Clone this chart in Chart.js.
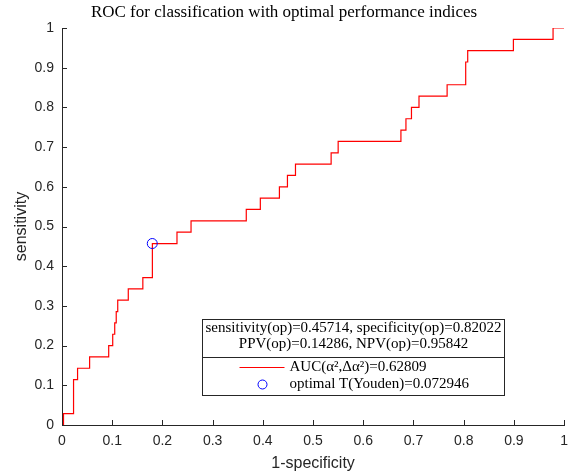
<!DOCTYPE html>
<html>
<head>
<meta charset="utf-8">
<script src="https://cdn.jsdelivr.net/npm/chart.js@4"></script>
<style>
  html, body { margin: 0; padding: 0; background: #fff; }
  #wrap { width: 576px; height: 476px; }
</style>
</head>
<body>
<div id="wrap"><canvas id="roc"></canvas></div>
<script>
// ROC curve vertices (1-specificity, sensitivity)
const fpr = [0.003, 0.003, 0.023, 0.023, 0.031, 0.031, 0.055, 0.055, 0.093, 0.093,
  0.101, 0.101, 0.105, 0.105, 0.108, 0.108, 0.111, 0.111, 0.132, 0.132,
  0.161, 0.161, 0.180, 0.180, 0.229, 0.229, 0.257, 0.257, 0.367, 0.367,
  0.395, 0.395, 0.433, 0.433, 0.449, 0.449, 0.465, 0.465, 0.536, 0.536,
  0.550, 0.550, 0.675, 0.675, 0.685, 0.685, 0.696, 0.696, 0.711, 0.711,
  0.767, 0.767, 0.804, 0.804, 0.808, 0.808, 0.899, 0.899, 0.978, 0.978, 1];
const tpr = [0, 0.0286, 0.0286, 0.1143, 0.1143, 0.1429, 0.1429, 0.1714, 0.1714, 0.2,
  0.2, 0.2286, 0.2286, 0.2571, 0.2571, 0.2857, 0.2857, 0.3143, 0.3143, 0.3429,
  0.3429, 0.3714, 0.3714, 0.4571, 0.4571, 0.4857, 0.4857, 0.5143, 0.5143, 0.5429,
  0.5429, 0.5714, 0.5714, 0.6, 0.6, 0.6286, 0.6286, 0.6571, 0.6571, 0.6857,
  0.6857, 0.7143, 0.7143, 0.7429, 0.7429, 0.7714, 0.7714, 0.8, 0.8, 0.8286,
  0.8286, 0.8571, 0.8571, 0.9143, 0.9143, 0.9429, 0.9429, 0.9714, 0.9714, 1, 1];

// optimal operating point (Youden)
const optX = [0.17978];
const optY = [0.45714];

const tickValues = [0, 0.1, 0.2, 0.3, 0.4, 0.5, 0.6, 0.7, 0.8, 0.9, 1];
const tickLabels = ['0', '0.1', '0.2', '0.3', '0.4', '0.5', '0.6', '0.7', '0.8', '0.9', '1'];

const statLines = [
  'sensitivity(op)=0.45714, specificity(op)=0.82022',
  'PPV(op)=0.14286, NPV(op)=0.95842'
];
const legendLabels = ['AUC(\u03B1\u00B2,\u0394\u03B1\u00B2)=0.62809', 'optimal T(Youden)=0.072946'];

const axisColor = '#262626';
const serif = '"Liberation Serif", "DejaVu Serif", serif';
const sans = '"Liberation Sans", Arial, sans-serif';

const rocPoints = fpr.map((x, i) => ({ x: x, y: tpr[i] }));
const optPoints = optX.map((x, i) => ({ x: x, y: optY[i] }));

function setTicks(scale) {
  scale.ticks = tickValues.map(v => ({ value: v }));
}

// MATLAB style inward tick marks
const innerTicks = {
  id: 'innerTicks',
  afterDatasetsDraw(chart) {
    const ctx = chart.ctx;
    const xs = chart.scales.x, ys = chart.scales.y;
    const len = 5;
    ctx.save();
    ctx.strokeStyle = axisColor;
    ctx.lineWidth = 1;
    ctx.beginPath();
    tickValues.forEach(v => {
      const px = Math.round(xs.getPixelForValue(v)) + 0.5;
      ctx.moveTo(px, ys.bottom);
      ctx.lineTo(px, ys.bottom - len);
      const py = Math.round(ys.getPixelForValue(v)) + 0.5;
      ctx.moveTo(xs.left, py);
      ctx.lineTo(xs.left + len, py);
    });
    ctx.stroke();
    ctx.restore();
  }
};

// legend box with the performance indices
const statLegend = {
  id: 'statLegend',
  afterDraw(chart) {
    const ctx = chart.ctx;
    const a = chart.chartArea;
    const w = a.right - a.left, h = a.bottom - a.top;
    const left = Math.round(a.left + 0.279 * w) + 0.5;
    const right = Math.round(a.left + 0.880 * w) + 0.5;
    const top = Math.round(a.bottom - 0.266 * h) + 0.5;
    const bottom = Math.round(a.bottom - 0.076 * h) + 0.5;
    const mid = Math.round(a.bottom - 0.172 * h) + 0.5;
    const cx = (left + right) / 2;

    ctx.save();
    ctx.fillStyle = '#fff';
    ctx.fillRect(left, top, right - left, bottom - top);
    ctx.strokeStyle = axisColor;
    ctx.lineWidth = 1;
    ctx.strokeRect(left, top, right - left, bottom - top);
    ctx.beginPath();
    ctx.moveTo(left, mid);
    ctx.lineTo(right, mid);
    ctx.stroke();

    ctx.fillStyle = '#000';
    ctx.font = '15px ' + serif;
    ctx.textAlign = 'center';
    ctx.textBaseline = 'middle';
    ctx.fillText(statLines[0], cx, top + 9);
    ctx.fillText(statLines[1], cx, top + 25);

    const row1 = mid + 10, row2 = mid + 27;
    const textX = left + 87;
    ctx.strokeStyle = '#ff0000';
    ctx.beginPath();
    ctx.moveTo(left + 37, row1);
    ctx.lineTo(left + 82, row1);
    ctx.stroke();
    ctx.strokeStyle = '#0000ff';
    ctx.beginPath();
    ctx.arc(left + 60, row2, 4.5, 0, Math.PI * 2);
    ctx.stroke();

    ctx.textAlign = 'left';
    ctx.fillText(legendLabels[0], textX, row1);
    ctx.fillText(legendLabels[1], textX, row2);
    ctx.restore();
  }
};

new Chart(document.getElementById('roc'), {
  type: 'scatter',
  data: {
    datasets: [{
      label: legendLabels[0],
      data: rocPoints,
      showLine: true,
      borderColor: '#ff0000',
      borderWidth: 1.2,
      pointRadius: 0,
      fill: false,
      order: 2
    }, {
      label: legendLabels[1],
      data: optPoints,
      showLine: false,
      pointStyle: 'circle',
      pointRadius: 5,
      borderColor: '#0000ff',
      backgroundColor: 'rgba(0,0,0,0)',
      pointBorderWidth: 1,
      order: 1
    }]
  },
  options: {
    responsive: true,
    maintainAspectRatio: false,
    animation: false,
    layout: { padding: { left: 0, right: 8, top: 0, bottom: 0 } },
    plugins: {
      legend: { display: false },
      tooltip: { enabled: false },
      title: {
        display: true,
        text: 'ROC for classification with optimal performance indices',
        color: '#000',
        font: { family: serif, size: 17, weight: 'normal' },
        padding: { top: 2, bottom: 5.6 }
      }
    },
    scales: {
      x: {
        type: 'linear',
        min: 0,
        max: 1,
        afterBuildTicks: setTicks,
        afterFit(scale) { scale.height = 51; },
        grid: { display: false, drawTicks: false },
        border: { display: true, color: axisColor, width: 1 },
        ticks: {
          color: axisColor,
          font: { family: sans, size: 14 },
          padding: 8,
          maxRotation: 0,
          callback: (v) => tickLabels[tickValues.indexOf(v)]
        },
        title: {
          display: true,
          text: '1-specificity',
          color: axisColor,
          font: { family: sans, size: 16 },
          padding: { top: 0, bottom: 3 }
        }
      },
      y: {
        type: 'linear',
        min: 0,
        max: 1,
        afterBuildTicks: setTicks,
        afterFit(scale) { scale.width = 62; },
        grid: { display: false, drawTicks: false },
        border: { display: true, color: axisColor, width: 1 },
        ticks: {
          color: axisColor,
          font: { family: sans, size: 14 },
          padding: 8,
          callback: (v) => tickLabels[tickValues.indexOf(v)]
        },
        title: {
          display: true,
          text: 'sensitivity',
          color: axisColor,
          font: { family: sans, size: 16 },
          padding: { top: 12, bottom: 0 }
        }
      }
    }
  },
  plugins: [innerTicks, statLegend]
});
</script>
</body>
</html>
